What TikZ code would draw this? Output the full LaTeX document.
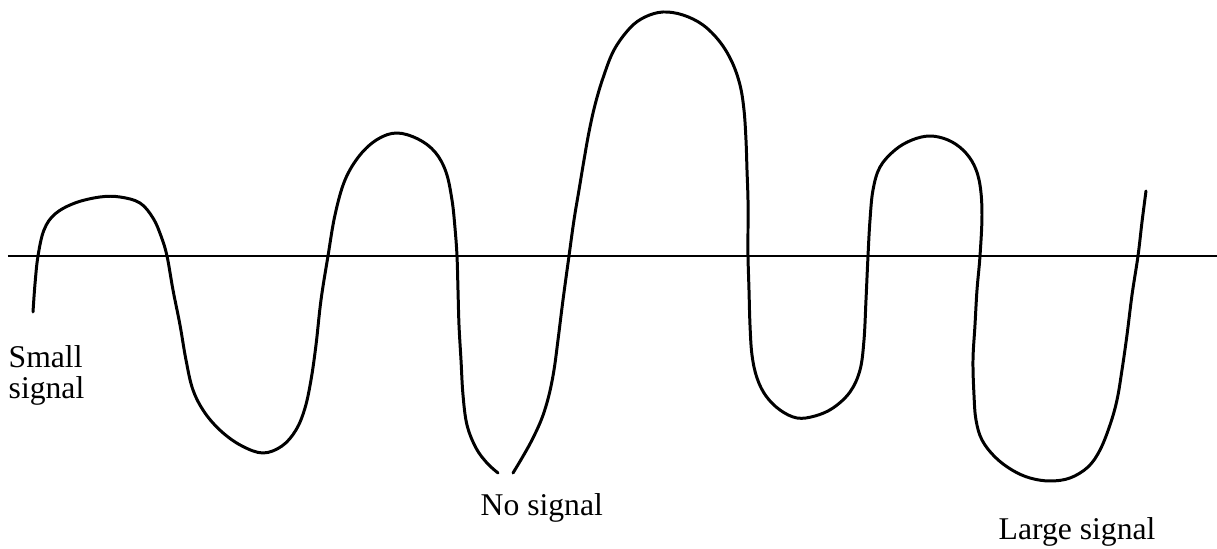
\documentclass[tikz,border=0pt]{standalone}
\usepackage{fontspec}
\setmainfont{Liberation Serif}
\usepackage{tikz}
\usetikzlibrary{positioning}
\tikzset{
    signalcurve/.style={line width=0.85pt, line join=round, line cap=round},
    signalaxis/.style={line width=0.6pt},
    signallabel/.style={align=left, inner sep=0pt, font=\fontsize{9}{8.8}\selectfont}
}

\begin{document}
\begin{tikzpicture}[x=0.01cm, y=-0.01cm]
        \useasboundingbox (0,0) rectangle (1217,549);
        \coordinate (axisW) at (8,256);
        \coordinate (axisE) at (1217,256);
        \draw[signalaxis] (axisW) -- (axisE);
        % wave, left part up to the clipped trough
        \draw[signalcurve] plot[smooth, tension=0.6] coordinates {(33,312) (35,284) (38,256) (44,230) (55,214) (75,203) (100,197) (120,197) (140,203) (153,218) (161,236) (167,256) (173,290) (180,325) (186,360) (193,390) (205,413) (222,432) (242,446) (263,453) (282,446) (296,430) (305,408) (311,380) (316,345) (321,300) (328,256) (335,215) (345,180) (360,155) (378,139) (397,133) (418,139) (435,152) (446,172) (452,200) (455,228) (457,256) (458,290) (459,325) (461,360) (463,395) (467,425) (476,448) (487,463) (498,473)};
        % wave, right part
        \draw[signalcurve] plot[smooth, tension=0.6] coordinates {(513,473) (522,458) (532,440) (542,418) (549,395) (554,370) (558,340) (563,300) (569,256) (574,220) (579,190) (584,160) (589,132) (595,105) (603,78) (614,50) (630,28) (645,17) (663,12) (683,15) (703,25) (720,42) (732,62) (740,85) (744,110) (746,140) (747,170) (748,200) (748,230) (748,256) (749,290) (750,325) (752,355) (757,378) (766,396) (780,410) (797,418) (815,416) (833,408) (850,392) (860,370) (864,340) (866,300) (868,256) (870,220) (873,190) (880,167) (895,150) (912,140) (930,136) (948,140) (963,150) (974,165) (980,185) (982,215) (980,256) (977,290) (975,325) (973,360) (974,395) (976,420) (982,440) (995,457) (1012,470) (1030,478) (1050,481) (1070,478) (1088,467) (1100,450) (1110,425) (1117,400) (1122,370) (1127,335) (1132,295) (1138,256) (1142,222) (1146,191)};
        \node[signallabel, anchor=north west] (small) at (8,345) {Small\\signal};
        \node[signallabel, anchor=base west] (none) at (480,516) {No signal};
        \node[signallabel, anchor=base west] (large) at (998,540) {Large signal};
    \end{tikzpicture}
\end{document}
